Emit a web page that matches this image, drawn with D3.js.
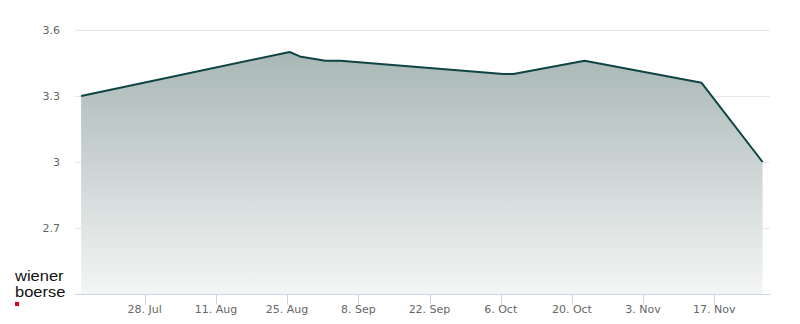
<!DOCTYPE html>
<html>
<head>
<meta charset="utf-8">
<script src="https://cdn.jsdelivr.net/npm/d3@7"></script>
<style>
  body { margin: 0; background: #fff; }
  svg { display: block; }
</style>
</head>
<body>
<div id="chart"></div>
<script>
// price series (noon timestamps)
var dates = ["2024-07-15T12:00", "2024-08-25T12:00", "2024-08-27T12:00", "2024-09-01T12:00",
             "2024-09-04T12:00", "2024-10-06T12:00", "2024-10-08T12:00", "2024-10-22T12:00",
             "2024-11-14T12:00", "2024-11-26T12:00"];
var prices = [3.30, 3.50, 3.48, 3.46, 3.46, 3.40, 3.40, 3.46, 3.36, 3.00];
var yTicks = [2.4, 2.7, 3.0, 3.3, 3.6];
var yTickLabels = ["", "2.7", "3", "3.3", "3.6"];
var xTicks = ["2024-07-28", "2024-08-11", "2024-08-25", "2024-09-08", "2024-09-22",
              "2024-10-06", "2024-10-20", "2024-11-03", "2024-11-17"];
var xTickLabels = ["28. Jul", "11. Aug", "25. Aug", "8. Sep", "22. Sep",
                   "6. Oct", "20. Oct", "3. Nov", "17. Nov"];

function start(){
    var width = 800, height = 324;
    var margin = {top: 30, right: 30, bottom: 30, left: 75};

    var parse = d3.timeParse("%Y-%m-%dT%H:%M");
    var parseDay = d3.timeParse("%Y-%m-%d");
    var data = dates.map(function(d, i){
        return {date: parse(d), value: prices[i]};
    });
    var tickDates = xTicks.map(parseDay);

    var svg = d3.select("#chart").append("svg")
        .attr("width", width)
        .attr("height", height);

    // x scale pinned to tick positions
    var xScale = d3.scaleTime()
        .domain([parseDay("2024-07-28"), parseDay("2024-11-17")])
        .range([144.7, 714.3]);

    var yScale = d3.scaleLinear()
        .domain([2.4, 3.6])
        .range([height - margin.bottom, margin.top]);

    var x0 = margin.left, x1 = width - margin.right;

    // grid
    svg.append("g")
        .selectAll("line")
        .data(yTicks.slice(1))
        .enter()
        .append("line")
        .attr("x1", x0)
        .attr("x2", x1)
        .attr("y1", function(d){ return Math.round(yScale(d)) + 0.5; })
        .attr("y2", function(d){ return Math.round(yScale(d)) + 0.5; })
        .attr("stroke", "#e6e6e6")
        .attr("stroke-width", 1);

    // y labels
    svg.append("g")
        .selectAll("text")
        .data(yTicks)
        .enter()
        .append("text")
        .attr("x", 60)
        .attr("y", function(d){ return yScale(d) + 4; })
        .attr("text-anchor", "end")
        .style("font-family", "'DejaVu Sans', sans-serif")
        .style("font-size", "11px")
        .style("fill", "#666666")
        .text(function(d, i){ return yTickLabels[i]; });

    // gradient for area
    var defs = svg.append("defs");
    var grad = defs.append("linearGradient")
        .attr("id", "areaFill")
        .attr("gradientUnits", "userSpaceOnUse")
        .attr("x1", 0).attr("x2", 0)
        .attr("y1", yScale(3.5)).attr("y2", yScale(2.4));
    grad.append("stop").attr("offset", "0%").attr("stop-color", "#a8b7b5");
    grad.append("stop").attr("offset", "100%").attr("stop-color", "#f4f5f5");

    var area = d3.area()
        .x(function(d){ return xScale(d.date); })
        .y0(yScale(2.4))
        .y1(function(d){ return yScale(d.value); });

    var line = d3.line()
        .x(function(d){ return xScale(d.date); })
        .y(function(d){ return yScale(d.value); });

    svg.append("path")
        .datum(data)
        .attr("d", area)
        .attr("fill", "url(#areaFill)");

    // x axis
    var axisY = Math.round(yScale(2.4)) + 0.5;
    svg.append("line")
        .attr("x1", x0).attr("x2", x1)
        .attr("y1", axisY).attr("y2", axisY)
        .attr("stroke", "#ccd6eb");

    var xg = svg.append("g");
    xg.selectAll("line")
        .data(tickDates)
        .enter()
        .append("line")
        .attr("x1", function(d){ return Math.round(xScale(d)) + 0.5; })
        .attr("x2", function(d){ return Math.round(xScale(d)) + 0.5; })
        .attr("y1", axisY)
        .attr("y2", axisY + 10)
        .attr("stroke", "#ccd6eb");

    xg.selectAll("text")
        .data(tickDates)
        .enter()
        .append("text")
        .attr("x", function(d){ return xScale(d); })
        .attr("y", 313)
        .attr("text-anchor", "middle")
        .style("font-family", "'DejaVu Sans', sans-serif")
        .style("font-size", "11px")
        .style("fill", "#666666")
        .text(function(d, i){ return xTickLabels[i]; });

    svg.append("path")
        .datum(data)
        .attr("d", line)
        .attr("fill", "none")
        .attr("stroke", "#0e4444")
        .attr("stroke-width", 2)
        .attr("stroke-linejoin", "round");

    // logo, slightly widened
    var logo = svg.append("g")
        .attr("transform", "translate(15,0) scale(1.18,1)")
        .style("font-family", "'Liberation Sans', Arial, sans-serif")
        .style("font-size", "14px")
        .style("fill", "#111");
    logo.append("text").attr("x", 0).attr("y", 281).text("wiener");
    logo.append("text").attr("x", 0).attr("y", 297).text("boerse");
    svg.append("rect")
        .attr("x", 15).attr("y", 302)
        .attr("width", 4).attr("height", 4)
        .attr("fill", "#e2001a");
}

start();
</script>
</body>
</html>
